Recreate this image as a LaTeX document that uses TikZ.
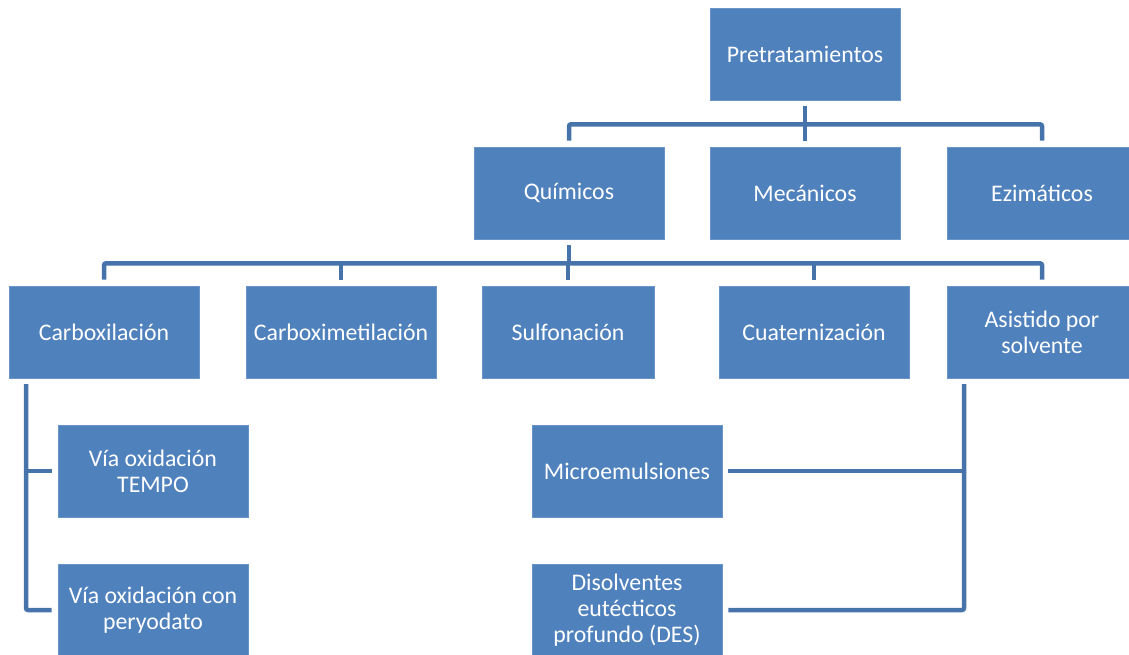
\documentclass[tikz,border=0pt]{standalone}
\usepackage{fontspec}
\setmainfont{Carlito}
\usepackage{tikz}
\usetikzlibrary{positioning}
\usepackage{xcolor}
\definecolor{boxblue}{RGB}{79,129,189}
\definecolor{lineblue}{RGB}{70,116,170}

\begin{document}
\begin{tikzpicture}[
    x=1pt,y=-1pt,
    box/.style={rectangle,fill=boxblue,draw=boxblue!85!white,line width=0.6pt,
      minimum width=190pt,minimum height=92pt,inner sep=2pt,
      text=white,align=center,font=\fontsize{23.8}{26}\selectfont},
    conn/.style={draw=lineblue,line width=4.5pt,rounded corners=2pt},
    gap/.style={shorten <=6pt},
    gapend/.style={shorten >=6pt}
  ]
  \useasboundingbox (0,0) rectangle (1129,654);

  % top levels
  \node[box] (pre) at (805,54) {Pretratamientos};
  \node[box] (quim) at (569,193) {Químicos};
  \node[box] (mec) at (805,193) {Mecánicos};
  \node[box] (ezi) at (1042,193) {Ezimáticos};

  % quimicos
  \node[box] (carbox) at (104,332) {Carboxilación};
  \node[box] (cmet) at (341,332) {Carboximetilación};
  \node[box,minimum width=172pt] (sulf) at (568,332) {Sulfonación};
  \node[box] (cuat) at (814,332) {Cuaternización};
  \node[box] (asist) at (1042,332) {Asistido por\\solvente};

  % sub-branches
  \node[box] (tempo) at (153,471) {Vía oxidación\\TEMPO};
  \node[box] (peryo) at (153,610) {Vía oxidación con\\peryodato};
  \node[box] (micro) at (627,471) {Microemulsiones};
  \node[box] (des) at (627,610) {Disolventes\\eutécticos\\profundo (DES)};

  \path (pre.south) ++(0,24) coordinate (bus1);
  \path (quim.south) ++(0,24) coordinate (bus2);
  \coordinate (lbar) at (26,378);
  \coordinate (rbar) at (964,378);

  % Relations
  \draw[conn,gap] (pre.south) -- (bus1);
  \draw[conn,gap,gapend] (quim.north) |- (ezi.north |- bus1) -- (ezi.north);
  \draw[conn,gap] (mec.north) -- (mec.north |- bus1);

  \draw[conn,gap] (quim.south) -- (bus2);
  \draw[conn,gap,gapend] (carbox.north) |- (asist.north |- bus2) -- (asist.north);
  \draw[conn,gap] (cmet.north) -- (cmet.north |- bus2);
  \draw[conn,gap] (sulf.north) -- (sulf.north |- bus2);
  \draw[conn,gap] (cuat.north) -- (cuat.north |- bus2);

  \draw[conn,gap,gapend] (lbar) |- (peryo.west);
  \draw[conn,gapend] (lbar |- tempo.west) -- (tempo.west);
  \draw[conn,gap,gapend] (rbar) |- (des.east);
  \draw[conn,gapend] (rbar |- micro.east) -- (micro.east);
\end{tikzpicture}
\end{document}
